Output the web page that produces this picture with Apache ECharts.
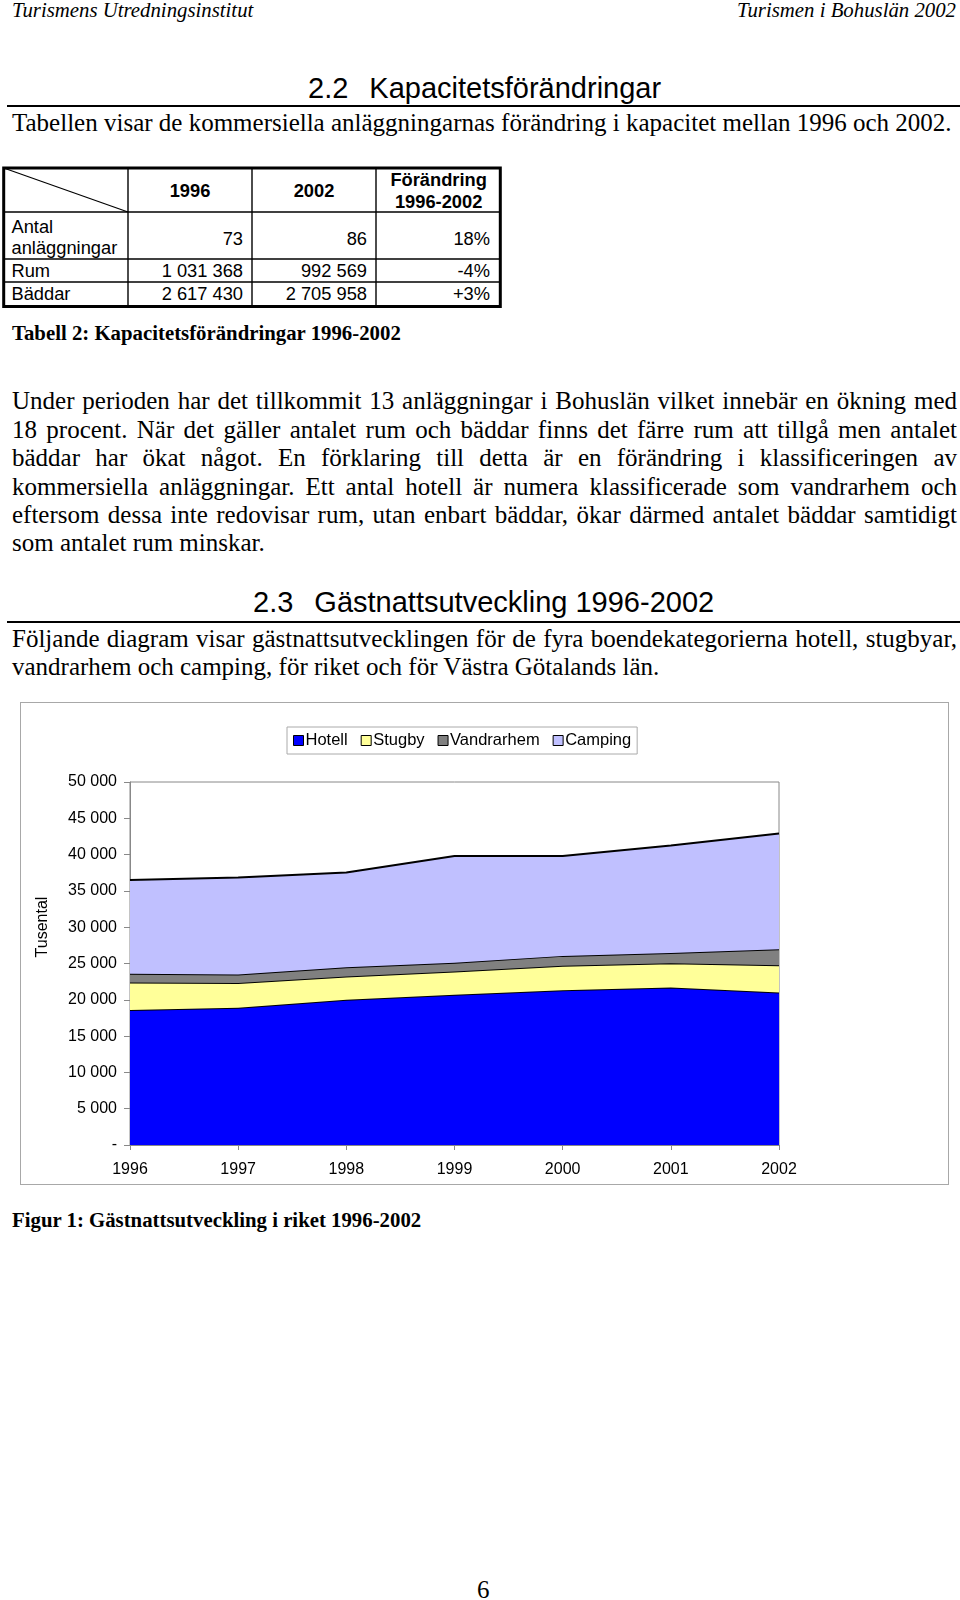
<!DOCTYPE html>
<html>
<head>
<meta charset="utf-8">
<script src="https://cdn.jsdelivr.net/npm/echarts@6.0.0/dist/echarts.min.js"></script>
<style>
  html, body { margin: 0; padding: 0; background: #fff; }
  body { width: 960px; height: 1600px; position: relative; overflow: hidden; color: #000; }
  .serif { font-family: "Liberation Serif", "Times New Roman", serif; }
  .sans { font-family: "Liberation Sans", Arial, sans-serif; }
  .abs { position: absolute; white-space: nowrap; }
  .jline { position: absolute; left: 12px; width: 945px; height: 28.4px; line-height: 28.4px;
           font-size: 25px; text-align: justify; text-align-last: justify; white-space: normal; }
  .jlast { text-align-last: left; }
  .rule { position: absolute; left: 7px; width: 953px; height: 2px; background: #000; }
  #chart { position: absolute; left: 20px; top: 702px; width: 927px; height: 481px; border: 1px solid #a8a8a8; }
  #tbl { position: absolute; left: 0; top: 160px; }
</style>
</head>
<body>
<div class="abs serif" style="left:12px; top:-2px; line-height:24px; font-size:20.8px; font-style:italic;">Turismens Utredningsinstitut</div>
<div class="abs serif" style="right:4px; top:-2px; line-height:24px; font-size:20.8px; font-style:italic;">Turismen i Bohuslän 2002</div>

<div class="abs sans" style="left:308px; top:72px; line-height:32px; font-size:29px;">2.2<span style="display:inline-block;width:21px"></span>Kapacitetsförändringar</div>
<div class="rule" style="top:105px;"></div>
<div class="abs serif" style="left:12px; top:109px; line-height:28.4px; font-size:25px;">Tabellen visar de kommersiella anläggningarnas förändring i kapacitet mellan 1996 och 2002.</div>

<svg id="tbl" width="520" height="160" xmlns="http://www.w3.org/2000/svg"></svg>

<div class="abs serif" style="left:12px; top:321px; line-height:24px; font-size:20.8px; font-weight:bold;">Tabell 2: Kapacitetsförändringar 1996-2002</div>

<div id="para1"></div>

<div class="abs sans" style="left:253px; top:586px; line-height:32px; font-size:29px;">2.3<span style="display:inline-block;width:21px"></span>Gästnattsutveckling 1996-2002</div>
<div class="rule" style="top:621px;"></div>
<div id="para2"></div>

<div id="chart"></div>

<div class="abs serif" style="left:12px; top:1208px; line-height:24px; font-size:20.8px; font-weight:bold;">Figur 1: Gästnattsutveckling i riket 1996-2002</div>
<div class="abs serif" style="left:477px; top:1576px; line-height:28px; font-size:25px;">6</div>

<script>
// ---------- data ----------
const years = ['1996', '1997', '1998', '1999', '2000', '2001', '2002'];
const hotell = [18600, 18900, 20000, 20700, 21300, 21700, 21000];
const stugby = [3800, 3400, 3200, 3200, 3400, 3350, 3750];
const vandrarhem = [1200, 1200, 1300, 1200, 1350, 1400, 2200];
const camping = [12900, 13350, 13050, 14700, 13750, 14800, 15950];
const seriesNames = ['Hotell', 'Stugby', 'Vandrarhem', 'Camping'];
const yAxisTitle = 'Tusental';

const tableHeader = ['1996', '2002', 'Förändring|1996-2002'];
const tableRowLabels = ['Antal|anläggningar', 'Rum', 'Bäddar'];
const tableCol1996 = ['73', '1 031 368', '2 617 430'];
const tableCol2002 = ['86', '992 569', '2 705 958'];
const tableColChange = ['18%', '-4%', '+3%'];

const para1Lines = [
  'Under perioden har det tillkommit 13 anläggningar i Bohuslän vilket innebär en ökning med',
  '18 procent. När det gäller antalet rum och bäddar finns det färre rum att tillgå men antalet',
  'bäddar har ökat något. En förklaring till detta är en förändring i klassificeringen av',
  'kommersiella anläggningar. Ett antal hotell är numera klassificerade som vandrarhem och',
  'eftersom dessa inte redovisar rum, utan enbart bäddar, ökar därmed antalet bäddar samtidigt',
  'som antalet rum minskar.'
];
const para2Lines = [
  'Följande diagram visar gästnattsutvecklingen för de fyra boendekategorierna hotell, stugbyar,',
  'vandrarhem och camping, för riket och för Västra Götalands län.'
];

// ---------- paragraphs ----------
function buildPara(id, lines, top) {
  const host = document.getElementById(id);
  lines.forEach((t, i) => {
    const d = document.createElement('div');
    d.className = 'jline serif' + (i === lines.length - 1 ? ' jlast' : '');
    d.style.top = (top + i * 28.4) + 'px';
    d.textContent = t;
    host.appendChild(d);
  });
}
buildPara('para1', para1Lines, 387.3);
buildPara('para2', para2Lines, 624.8);

// ---------- table (svg, offset top 160) ----------
(function () {
  const svg = document.getElementById('tbl');
  const NS = 'http://www.w3.org/2000/svg';
  const colX = [3.7, 128, 252, 376, 500.3];
  const rowY = [8, 52, 99, 122, 146.5];
  function line(x1, y1, x2, y2, w) {
    const l = document.createElementNS(NS, 'line');
    l.setAttribute('x1', x1); l.setAttribute('y1', y1);
    l.setAttribute('x2', x2); l.setAttribute('y2', y2);
    l.setAttribute('stroke', '#000'); l.setAttribute('stroke-width', w);
    svg.appendChild(l);
  }
  function text(t, x, y, anchor, bold) {
    const e = document.createElementNS(NS, 'text');
    e.setAttribute('x', x); e.setAttribute('y', y);
    e.setAttribute('text-anchor', anchor);
    e.setAttribute('dominant-baseline', 'central');
    e.setAttribute('font-family', '"Liberation Sans", Arial, sans-serif');
    e.setAttribute('font-size', '18.3');
    if (bold) e.setAttribute('font-weight', 'bold');
    e.textContent = t;
    svg.appendChild(e);
  }
  for (let i = 1; i < 4; i++) line(colX[i], rowY[0], colX[i], rowY[4], 1.4);
  for (let j = 1; j < 4; j++) line(colX[0], rowY[j], colX[4], rowY[j], 1.4);
  line(colX[0], rowY[0], colX[1], rowY[1], 1.2);
  const r = document.createElementNS(NS, 'rect');
  r.setAttribute('x', colX[0]); r.setAttribute('y', rowY[0]);
  r.setAttribute('width', colX[4] - colX[0]); r.setAttribute('height', rowY[4] - rowY[0]);
  r.setAttribute('fill', 'none'); r.setAttribute('stroke', '#000'); r.setAttribute('stroke-width', 3);
  svg.appendChild(r);
  tableHeader.forEach((h, i) => {
    const cx = (colX[i + 1] + colX[i + 2]) / 2;
    const parts = h.split('|');
    if (parts.length === 1) text(parts[0], cx, 30.5, 'middle', true);
    else { text(parts[0], cx + 0.5, 19.5, 'middle', true); text(parts[1], cx + 0.5, 41, 'middle', true); }
  });
  const rowCenters = [78.5, 110.5, 133.5];
  tableRowLabels.forEach((lab, r2) => {
    const parts = lab.split('|');
    if (parts.length === 1) text(parts[0], 11.5, rowCenters[r2], 'start', false);
    else { text(parts[0], 11.5, 66, 'start', false); text(parts[1], 11.5, 87.5, 'start', false); }
    text(tableCol1996[r2], 243, rowCenters[r2], 'end', false);
    text(tableCol2002[r2], 367, rowCenters[r2], 'end', false);
    text(tableColChange[r2], 490, rowCenters[r2], 'end', false);
  });
})();

// ---------- chart ----------
const fills = ['#0000FF', '#FFFF99', '#808080', '#C0C0FF'];
const dataSets = [hotell, stugby, vandrarhem, camping];
const chart = echarts.init(document.getElementById('chart'), null, { renderer: 'canvas' });
const FONT = '"Liberation Sans", Arial, sans-serif';
chart.setOption({
  animation: false,
  backgroundColor: '#fff',
  textStyle: { fontFamily: FONT },
  legend: {
    data: seriesNames,
    left: 266, top: 24,
    padding: [5, 6, 5, 6],
    itemWidth: 10, itemHeight: 10, itemGap: 13,
    icon: 'rect',
    borderColor: '#aaa', borderWidth: 1,
    itemStyle: { borderColor: '#000', borderWidth: 1 },
    textStyle: { fontFamily: FONT, fontSize: 16.5, color: '#000', padding: [0, 0, 0, -3] }
  },
  graphic: [{
    type: 'text',
    x: 22, y: 224,
    rotation: Math.PI / 2,
    style: { text: yAxisTitle, fill: '#000', font: '16px ' + FONT, align: 'center', verticalAlign: 'middle' }
  }],
  grid: {
    left: 109, right: 169, top: 79, bottom: 39,
    show: true, borderColor: '#888', borderWidth: 1, containLabel: false
  },
  xAxis: {
    type: 'category', data: years, boundaryGap: false,
    axisLine: { lineStyle: { color: '#888', width: 1 } },
    axisTick: { show: true, length: 5, lineStyle: { color: '#888' } },
    axisLabel: { color: '#000', fontSize: 16, margin: 17, fontFamily: FONT },
    splitLine: { show: false }
  },
  yAxis: {
    type: 'value', min: 0, max: 50000, interval: 5000,
    axisLine: { show: true, lineStyle: { color: '#888', width: 1 } },
    axisTick: { show: true, length: 6, inside: false, lineStyle: { color: '#888' } },
    axisLabel: {
      color: '#000', fontSize: 16, margin: 13, fontFamily: FONT,
      formatter: v => v === 0 ? '-' : String(v).replace(/\B(?=(\d{3})+(?!\d))/g, ' ')
    },
    splitLine: { show: false }
  },
  series: seriesNames.map((n, i) => ({
    name: n, type: 'line', stack: 'total',
    data: dataSets[i],
    symbol: 'none', smooth: false,
    lineStyle: { color: '#000', width: 2 },
    itemStyle: { color: fills[i] },
    areaStyle: { color: fills[i], opacity: 1 },
    z: 2 + i
  }))
});
</script>
</body>
</html>
